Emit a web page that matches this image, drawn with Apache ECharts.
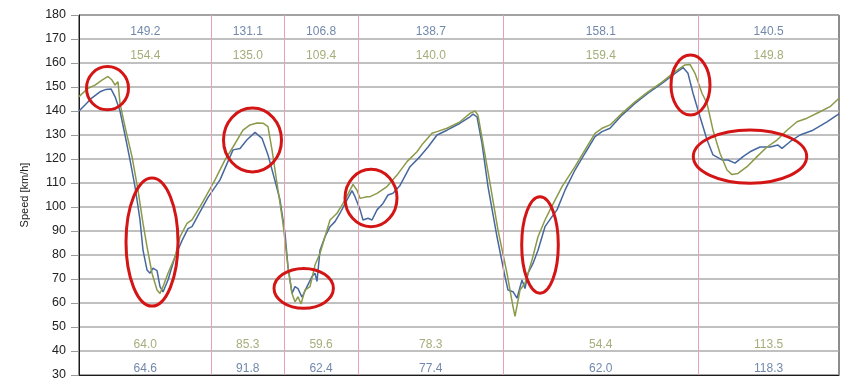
<!DOCTYPE html>
<html>
<head>
<meta charset="utf-8">
<script src="https://cdn.jsdelivr.net/npm/echarts@6/dist/echarts.min.js"></script>
<style>html,body{margin:0;padding:0;background:#fff}#c{width:847px;height:388px}</style>
</head>
<body>
<div id="c"></div>
<script>
// distance (arbitrary units along lap) and speed for the two laps
var blueDist = [0,6,13,21,27,32,36,41,46,51,56,61,64,68,71,74,78,81,84,89,96,103,109,113,121,129,141,154,161,168,176,183,189,194,201,206,209,213,216,219,223,228,233,236,238,241,246,251,256,261,268,273,276,281,284,289,293,298,304,309,314,321,331,341,349,358,368,381,391,394,398,403,409,418,426,429,434,438,443,446,449,454,459,466,473,478,486,496,506,516,523,531,543,556,569,583,596,604,609,614,621,628,634,643,649,656,664,671,681,691,699,703,711,721,734,748,758,760];
var blueSpeed = [140,142.5,145.5,148,149,149.2,146,140,130,119.6,108.5,94.6,82,73.8,72.4,74.5,73.5,66.8,64.6,69.6,79.3,86,91,91.8,98,104,111.3,123.8,124.4,128,131.1,128.6,121.7,114,103,89,75,64,66.8,66,62.4,66.8,71,72.4,69,82,87.6,91.8,93.9,97.4,103,106.8,104.3,99,94.6,95.3,94.6,98.8,101.5,105,105.7,109,116.8,121,125,130,132,134.9,137.6,138.7,137.6,126.5,108.5,87.6,71,65.4,64.7,62,69.6,66,72.4,76.5,82,91.8,96,98.8,107,115.4,122.4,129.3,131.4,132.8,138.3,143.2,147.4,151.5,155.7,158.1,155.7,147.4,137.6,128,121.7,119.6,119.6,118.3,121,123,125,125,125.8,124.4,127.2,130,132,135.5,138.3,138.8];
var greenDist = [0,1,9,16,23,29,33,36,39,41,46,53,59,64,68,73,78,81,84,89,96,101,108,113,123,136,146,154,164,171,178,184,189,193,198,204,209,213,216,219,222,226,231,236,241,246,251,258,264,271,274,278,281,288,291,298,308,318,328,338,344,353,358,368,381,391,396,399,404,411,419,428,431,434,436,441,446,453,459,466,471,483,496,506,516,523,531,543,556,569,583,596,606,611,616,623,628,634,641,648,653,659,668,678,688,698,708,718,728,741,751,760];
var greenSpeed = [146,146.7,149.5,150.8,152.9,154.4,152.9,150.8,152.2,143.2,133.5,121,107,93.2,83.5,72.4,65.4,64,66.8,72.4,79.3,87.6,93.2,94.6,101.5,111.3,119.6,125,132,134.2,135,134.9,133.5,123.8,109.9,93.2,75,64,60.5,62.6,59.6,65.4,66.8,75.8,80.7,87.6,94.6,97.4,101.5,107,109.4,107,103.6,104.3,104.3,105.7,108.5,113.3,118.9,123,126.5,130.7,131.4,132.8,135.5,139,140,138.3,126.5,109.9,90.4,72.4,65.4,58.5,54.4,65.4,68.2,77.9,87.6,94.6,98.8,108.5,116.8,123.8,130.7,132.8,134.2,139,143.8,148,152,156.4,159.2,159.4,155.7,147.4,143.2,132,122.4,115.4,113.5,114,116.8,121,125,127.9,132,135.5,137,139.7,141.8,145.3];
// section boundaries (distance) and per-section max/min speeds
var sectionBounds = [132.7, 205, 279.3, 424.3, 619.3];
var sectionCenters = [66.3, 168.8, 242.1, 351.8, 521.8, 689.6];
var maxBlue = [149.2, 131.1, 106.8, 138.7, 158.1, 140.5];
var maxGreen = [154.4, 135.0, 109.4, 140.0, 159.4, 149.8];
var minGreen = [64.0, 85.3, 59.6, 78.3, 54.4, 113.5];
var minBlue = [64.6, 91.8, 62.4, 77.4, 62.0, 118.3];
// highlighted regions: centre distance, centre speed, half-width (distance), half-height (speed)
var highlights = [
  [28.5, 149.5, 21, 9.0],
  [73, 85.4, 26, 26.7],
  [173.5, 127.9, 29, 13.3],
  [224.7, 66.1, 29.7, 8.3],
  [292, 103.75, 26, 12],
  [461, 84.2, 18.3, 20.1],
  [611.5, 150.8, 19.5, 12.5],
  [671, 121, 56.7, 11.1]
];
var yMin = 30, yMax = 180, yStep = 10;
var rowMaxBlue = 172.9, rowMaxGreen = 163, rowMinGreen = 42.8, rowMinBlue = 32.8;

var BLUE = '#46689f', GREEN = '#8a9a48', BLUE_T = '#4d6a96', GREEN_T = '#8c9a58';
function zip(a, b){ return a.map(function(v,i){ return [v, b[i]]; }); }
function row(vals, y){ return vals.map(function(v,i){ return [sectionCenters[i], y, v]; }); }
function textSeries(vals, y, color){
  return {
    type: 'scatter', data: row(vals, y), symbolSize: 1, silent: true,
    itemStyle: {color: 'rgba(0,0,0,0)'}, z: 5,
    label: {show: true, position: 'inside', color: color, fontSize: 12,
      fontFamily: 'Liberation Sans, Arial, sans-serif',
      formatter: function(p){ return p.data[2].toFixed(1); }}
  };
}
var chart = echarts.init(document.getElementById('c'), null, {renderer: 'canvas'});
chart.setOption({
  animation: false,
  backgroundColor: '#fff',
  grid: {left: 79, right: 8, top: 15, bottom: 13, show: true, borderColor: '#1a1a1a', borderWidth: 1, backgroundColor: 'transparent'},
  xAxis: {type: 'value', min: 0, max: 760, axisLabel: {show: false}, axisTick: {show: false},
    axisLine: {show: true, lineStyle: {color: '#1a1a1a', width: 1}}, splitLine: {show: false}},
  yAxis: {type: 'value', min: yMin, max: yMax, interval: yStep,
    name: 'Speed [km/h]', nameLocation: 'middle', nameGap: 49, nameRotate: 90,
    nameTextStyle: {fontSize: 11, color: '#222', fontFamily: 'Liberation Sans, Arial, sans-serif'},
    axisLine: {show: true, lineStyle: {color: '#1a1a1a', width: 1}},
    axisTick: {show: true, length: 8, inside: false, lineStyle: {color: '#999'}},
    axisLabel: {margin: 13, fontSize: 12.5, color: '#222', fontFamily: 'Liberation Sans, Arial, sans-serif'},
    splitLine: {show: true, lineStyle: {color: '#ababab', width: 1.5}}},
  series: [
    {type: 'line', data: zip(blueDist, blueSpeed), showSymbol: false, symbol: 'none', smooth: false,
      lineStyle: {color: BLUE, width: 1.5}, itemStyle: {color: BLUE}, z: 3,
      markLine: {silent: true, symbol: 'none', label: {show: false},
        lineStyle: {color: '#e6a3b2', width: 1, type: 'solid'},
        data: sectionBounds.map(function(x){ return {xAxis: x}; })}},
    {type: 'line', data: zip(greenDist, greenSpeed), showSymbol: false, symbol: 'none', smooth: false,
      lineStyle: {color: GREEN, width: 1.5}, itemStyle: {color: GREEN}, z: 3},
    textSeries(maxBlue, rowMaxBlue, BLUE_T),
    textSeries(maxGreen, rowMaxGreen, GREEN_T),
    textSeries(minGreen, rowMinGreen, GREEN_T),
    textSeries(minBlue, rowMinBlue, BLUE_T),
    {type: 'custom', data: highlights, z: 10, silent: true, clip: false,
      renderItem: function(params, api){
        var c = api.coord([api.value(0), api.value(1)]);
        var s = api.size([api.value(2), api.value(3)]);
        return {type: 'ellipse', shape: {cx: c[0], cy: c[1], rx: s[0], ry: s[1]},
          style: {fill: null, stroke: '#d41515', lineWidth: 3}};
      }}
  ]
});
</script>
</body>
</html>
